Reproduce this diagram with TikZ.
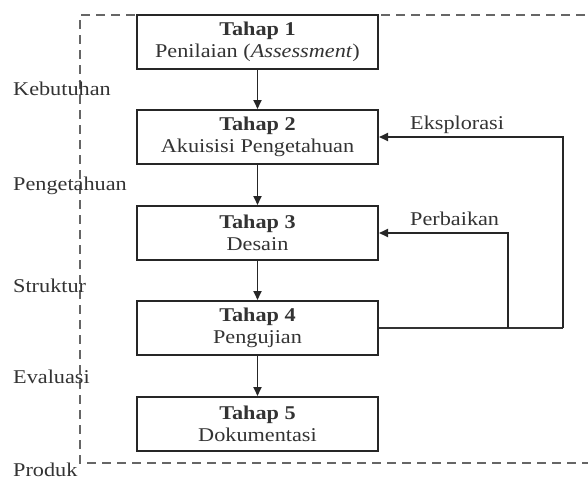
\documentclass[tikz,border=0pt]{standalone}
\usepackage{fontspec}
\setmainfont{Liberation Serif}
\usepackage{graphicx}
\usetikzlibrary{arrows.meta}
\newcommand{\sx}[1]{\scalebox{1.14}[1]{#1}}
\begin{document}
\begin{tikzpicture}[x=1pt,y=-1pt,
  every node/.style={font=\fontsize{19.5}{21}\selectfont, text=black!80, inner sep=0pt},
  stage/.style={draw=black!85, line width=2pt, minimum width=241pt, minimum height=54pt, align=center, text=black!80},
  flow/.style={draw=black!85, line width=1.8pt, -{Triangle[length=9pt,width=8pt]}},
  loop/.style={draw=black!80, line width=1.8pt},
  lbl/.style={anchor=base west}]
\useasboundingbox (0,0) rectangle (588,480);
% dashed frame
\draw[black!60, line width=2.2pt, dash pattern=on 9pt off 6pt] (600,15) -- (80,15) -- (80,463) -- (600,463);
% stages
\node[stage] (s1) at (257.5,42) {\sx{\textbf{Tahap 1}}\\[1pt]\sx{Penilaian (\textit{Assessment})}};
\node[stage] (s2) at (257.5,137) {\sx{\textbf{Tahap 2}}\\[1pt]\sx{Akuisisi Pengetahuan}};
\node[stage] (s3) at (257.5,233) {\sx{\textbf{Tahap 3}}\\[1pt]\sx{Desain}};
\node[stage] (s4) at (257.5,328) {\sx{\textbf{Tahap 4}}\\[1pt]\sx{Pengujian}};
\node[stage] (s5) at (257.5,424) {\sx{\textbf{Tahap 5}}\\[1pt]\sx{Dokumentasi}};
% flow arrows
\draw[flow] (s1) -- (s2);
\draw[flow] (s2) -- (s3);
\draw[flow] (s3) -- (s4);
\draw[flow] (s4) -- (s5);
% feedback loops
\coordinate (pr) at (508,328);
\coordinate (er) at (563,328);
\draw[loop] (s4.east) -- (er);
\draw[flow] (pr) |- (s3.east);
\draw[flow] (er) |- (s2.east);
\node[lbl] (eks) at (410,129) {\sx{Eksplorasi}};
\node[lbl] (per) at (410,225) {\sx{Perbaikan}};
% side labels
\node[lbl] (l1) at (13,95) {\sx{Kebutuhan}};
\node[lbl] (l2) at (13,190) {\sx{Pengetahuan}};
\node[lbl] (l3) at (13,292) {\sx{Struktur}};
\node[lbl] (l4) at (13,383) {\sx{Evaluasi}};
\node[lbl] (l5) at (13,476) {\sx{Produk}};
\end{tikzpicture}
\end{document}
